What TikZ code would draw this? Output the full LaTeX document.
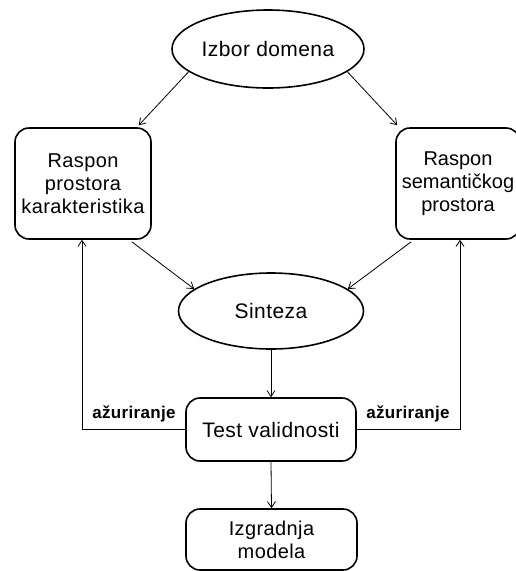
\documentclass[tikz,border=0pt]{standalone}
\usepackage{fontspec}
\setmainfont[LetterSpace=2]{Liberation Sans}
\usetikzlibrary{shapes.geometric,arrows.meta,calc}
\begin{document}
\begin{tikzpicture}[x=1pt,y=-1pt,
  oval/.style={ellipse,draw,line width=1.6pt,inner sep=0pt,font=\fontsize{21}{23}\selectfont},
  rbox/.style={rectangle,rounded corners=14pt,draw,line width=1.6pt,inner sep=0pt,align=center,font=\fontsize{20}{23}\selectfont},
  arr/.style={-{Straight Barb[length=6pt,width=8pt]},line width=0.8pt},
  lbl/.style={font=\bfseries\fontsize{17}{19}\selectfont,inner sep=0pt}]
\useasboundingbox (0,0) rectangle (515,571);
\node[oval,minimum width=192pt,minimum height=78pt] (izbor) at (268,49) {Izbor domena};
\node[rbox,minimum width=136pt,minimum height=111pt] (lbox) at (83,183.5) {Raspon\\prostora\\karakteristika};
\node[rbox,minimum width=124pt,minimum height=111pt,font=\fontsize{20}{23}\selectfont\addfontfeature{LetterSpace=0}] (rbox) at (458,183.5) {Raspon\\semantičkog\\prostora};
\node[oval,minimum width=185pt,minimum height=76pt] (sint) at (271,311) {Sinteza};
\node[rbox,minimum width=170pt,minimum height=63pt,font=\fontsize{21}{23}\selectfont] (test) at (271,429.5) {Test validnosti};
\node[rbox,minimum width=171pt,minimum height=61pt] (izg) at (271.5,539.5) {Izgradnja\\modela};
\draw[arr] (izbor.196) -- ($(lbox.north east)+(-13,-2)$);
\draw[arr] (izbor.344) -- ($(rbox.north west)+(2,-2)$);
\draw[arr] ($(lbox.south east)+(-20,2)$) -- (sint.164);
\draw[arr] ($(rbox.south west)+(16,2)$) -- (sint.16);
\draw[arr] (sint.south) -- (test.north);
\draw[arr] (test.south) -- (izg.north);
\draw[arr] (test.west) -| ($(lbox.south)+(-1,0)$);
\draw[arr] (test.east) -| ($(rbox.south)+(2,0)$);
\node[lbl] (l1) at (134,414) {ažuriranje};
\node[lbl] (l2) at (408,414) {ažuriranje};
\end{tikzpicture}
\end{document}
